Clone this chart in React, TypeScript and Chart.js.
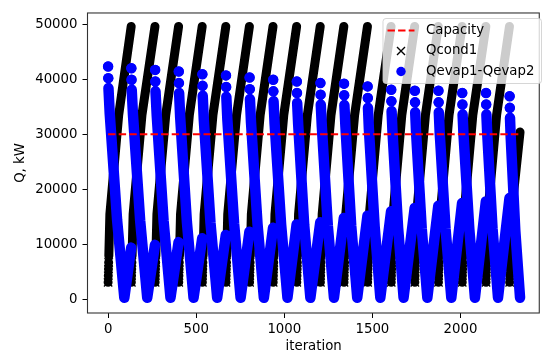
import React, { useEffect, useRef } from "react";
import { Chart, registerables } from "chart.js";

Chart.register(...registerables);

// ---------- data ----------
const xTicks = [0, 500, 1000, 1500, 2000];
const xTickLabels = ["0", "500", "1000", "1500", "2000"];
const yTicks = [0, 10000, 20000, 30000, 40000, 50000];
const yTickLabels = ["0", "10000", "20000", "30000", "40000", "50000"];

const lastIteration = 2338;
const capacityIter = [0, 2338];
const capacityValue = [30000, 30000];

// start iteration of each cycle
const cycleStart = [0, 132, 267, 401, 535, 669, 803, 937, 1071, 1205, 1339, 1473, 1607, 1741, 1875, 2010, 2145, 2279];

// Qevap1-Qevap2 (blue)
const evapPeak = [42300, 42000, 41700, 41400, 40900, 40700, 40300, 39900, 39600, 39300, 39200, 38700, 38100, 37900, 37900, 37500, 37500, 36900];
const evapSecond = [40200, 39900, 39600, 39300, 38800, 38600, 38200, 37800, 37500, 37200, 37100, 36600, 36000, 35800, 35800, 35400, 35400, 34800];
const evapColumnTop = [38400, 38100, 37800, 37500, 37000, 36800, 36400, 36000, 35700, 35400, 35300, 34800, 34200, 34000, 34000, 33600, 33600, 33000];
const evapUpperIter = [9, 141, 276, 409, 543, 677, 811, 945, 1079, 1213, 1347, 1480, 1614, 1748, 1882, 2017, 2152, 2285];
const evapUpper = [33800, 33600, 33400, 33100, 32700, 32600, 32200, 31900, 31700, 31400, 31400, 31000, 30500, 30300, 30300, 30000, 30000, 29500];
const evapMidIter = [51, 182, 315, 447, 581, 715, 848, 982, 1113, 1247, 1380, 1513, 1646, 1780, 1915, 2050, 2182, 2311];
const evapMid = [14400, 14300, 14200, 14100, 13900, 13800, 13700, 13600, 13500, 13400, 13300, 13200, 13000, 12900, 12900, 12800, 12800, 12500];
const evapTroughIter = [92, 222, 354, 485, 619, 752, 884, 1018, 1148, 1282, 1414, 1545, 1677, 1812, 1948, 2082, 2213, 2338];
const evapTrough = [300, 300, 300, 300, 300, 300, 300, 300, 300, 300, 300, 300, 300, 300, 300, 300, 300, 300];
const evapShoulder = [9400, 9900, 10400, 11100, 11700, 12300, 13000, 13600, 14000, 14800, 15200, 16000, 16600, 17000, 17500, 17800, 18400];

// Qcond1 (black x)
const condStackOffset = [0, 1, 2, 3];
const condStack = [3100, 4300, 5500, 6700];
const condRiseOffset = [4, 10, 60];
const condRise = [7900, 15500, 33500];
const condTop = [49600, 49600, 49600, 49600, 49600, 49600, 49600, 49600, 49600, 49600, 49600, 49600, 49600, 49600, 49600, 49600, 49600, 30400];

// ---------- styling ----------
const FONT = "'DejaVu Sans', 'Liberation Sans', sans-serif";
const FS = 13.3;

type P = { x: number; y: number | null; m?: boolean };

function buildEvap(): P[] {
  const d: P[] = [];
  for (let k = 0; k < cycleStart.length; k++) {
    const s = cycleStart[k];
    d.push({ x: s, y: evapPeak[k], m: true });
    d.push({ x: s + 0.5, y: null });
    d.push({ x: s + 1, y: evapSecond[k], m: true });
    d.push({ x: s + 1.5, y: null });
    d.push({ x: s + 2, y: evapColumnTop[k] });
    d.push({ x: evapUpperIter[k], y: evapUpper[k] });
    d.push({ x: evapMidIter[k], y: evapMid[k] });
    d.push({ x: evapTroughIter[k], y: evapTrough[k] });
    if (k < evapShoulder.length) {
      d.push({ x: cycleStart[k + 1] - 1, y: evapShoulder[k] });
      d.push({ x: cycleStart[k + 1] - 0.5, y: null });
    }
  }
  return d;
}

function buildCond(): P[] {
  const d: P[] = [];
  for (let k = 0; k < cycleStart.length; k++) {
    const s = cycleStart[k];
    const end = k + 1 < cycleStart.length ? cycleStart[k + 1] - 1 : lastIteration;
    for (let j = 0; j < condStack.length; j++) {
      d.push({ x: s + condStackOffset[j], y: condStack[j], m: true });
      d.push({ x: s + condStackOffset[j] + 0.5, y: null });
    }
    for (let j = 0; j < condRise.length; j++) {
      if (s + condRiseOffset[j] < end) d.push({ x: s + condRiseOffset[j], y: condRise[j] });
    }
    d.push({ x: end, y: condTop[k] });
    d.push({ x: end + 0.5, y: null });
  }
  return d;
}

const framePlugin = {
  id: "frame",
  afterDatasetsDraw(chart: any) {
    const { ctx, chartArea: a } = chart;
    ctx.save();
    ctx.strokeStyle = "#333";
    ctx.lineWidth = 1.1;
    ctx.strokeRect(a.left, a.top, a.right - a.left - 0.5, a.bottom - a.top);
    ctx.restore();
  },
  afterDraw(chart: any) {
    const { ctx, chartArea: a } = chart;
    ctx.save();
    // axis titles
    ctx.fillStyle = "#000";
    ctx.font = `${FS}px ${FONT}`;
    ctx.textAlign = "center";
    ctx.textBaseline = "middle";
    ctx.fillText("iteration", (a.left + a.right) / 2, 347);
    ctx.save();
    ctx.translate(21, (a.top + a.bottom) / 2);
    ctx.rotate(-Math.PI / 2);
    ctx.fillText("Q, kW", 0, 0);
    ctx.restore();

    // legend
    const lx = 383, ly = 18.5, lw = 158.5, lh = 65, r = 3;
    ctx.beginPath();
    ctx.moveTo(lx + r, ly);
    ctx.lineTo(lx + lw - r, ly);
    ctx.quadraticCurveTo(lx + lw, ly, lx + lw, ly + r);
    ctx.lineTo(lx + lw, ly + lh - r);
    ctx.quadraticCurveTo(lx + lw, ly + lh, lx + lw - r, ly + lh);
    ctx.lineTo(lx + r, ly + lh);
    ctx.quadraticCurveTo(lx, ly + lh, lx, ly + lh - r);
    ctx.lineTo(lx, ly + r);
    ctx.quadraticCurveTo(lx, ly, lx + r, ly);
    ctx.closePath();
    ctx.fillStyle = "rgba(255,255,255,0.8)";
    ctx.fill();
    ctx.strokeStyle = "rgba(204,204,204,0.8)";
    ctx.lineWidth = 1;
    ctx.stroke();

    const rows = [30.5, 51, 71.5];
    const hx0 = 387.5, hx1 = 414.5, hc = 401;
    // Capacity
    ctx.strokeStyle = "red";
    ctx.lineWidth = 2;
    ctx.setLineDash([7.4, 3.2]);
    ctx.beginPath();
    ctx.moveTo(hx0, rows[0]);
    ctx.lineTo(hx1, rows[0]);
    ctx.stroke();
    ctx.setLineDash([]);
    // Qcond1
    ctx.strokeStyle = "#000";
    ctx.lineWidth = 1.33;
    ctx.beginPath();
    ctx.moveTo(hc - 4, rows[1] - 4);
    ctx.lineTo(hc + 4, rows[1] + 4);
    ctx.moveTo(hc - 4, rows[1] + 4);
    ctx.lineTo(hc + 4, rows[1] - 4);
    ctx.stroke();
    // Qevap
    ctx.fillStyle = "blue";
    ctx.beginPath();
    ctx.arc(hc, rows[2], 4.7, 0, Math.PI * 2);
    ctx.fill();

    ctx.fillStyle = "#000";
    ctx.textAlign = "left";
    ctx.textBaseline = "middle";
    ctx.fillText("Capacity", 426, rows[0]);
    ctx.fillText("Qcond1", 426, rows[1]);
    ctx.fillText("Qevap1-Qevap2", 426, rows[2]);
    ctx.restore();
  },
};

export default function App() {
  const ref = useRef<HTMLCanvasElement>(null);
  useEffect(() => {
    const canvas = ref.current;
    if (!canvas) return;
    const capData = capacityIter.map((x, i) => ({ x, y: capacityValue[i] }));
    const chart = new Chart(canvas, {
      type: "line",
      data: {
        datasets: [
          {
            label: "Capacity",
            data: capData,
            borderColor: "red",
            borderWidth: 2,
            borderDash: [7.4, 3.2],
            pointRadius: 0,
            fill: false,
          },
          {
            label: "Qevap1-Qevap2",
            data: buildEvap() as any,
            borderColor: "blue",
            borderWidth: 10.5,
            borderCapStyle: "round",
            borderJoinStyle: "round",
            pointStyle: "circle",
            pointRadius: (c: any) => (c.raw && c.raw.m ? 5 : 0),
            pointBackgroundColor: "blue",
            pointBorderWidth: 0,
            spanGaps: false,
            fill: false,
          },
          {
            label: "Qcond1",
            data: buildCond() as any,
            borderColor: "#000",
            borderWidth: 9,
            borderCapStyle: "round",
            borderJoinStyle: "round",
            pointStyle: "crossRot",
            pointRadius: (c: any) => (c.raw && c.raw.m ? 5.9 : 0),
            pointBorderColor: "#000",
            pointBorderWidth: 1.33,
            spanGaps: false,
            fill: false,
          },
        ],
      },
      options: {
        animation: false,
        responsive: false,
        maintainAspectRatio: false,
        devicePixelRatio: 1,
        events: [],
        layout: { padding: { left: 0, right: 0, top: 11, bottom: 0 } },
        plugins: { legend: { display: false }, tooltip: { enabled: false } },
        elements: { line: { tension: 0 } },
        scales: {
          x: {
            type: "linear",
            min: -117,
            max: 2450,
            afterBuildTicks: (s: any) => {
              s.ticks = xTicks.map((v) => ({ value: v }));
            },
            afterFit: (s: any) => {
              s.height = 41;
            },
            grid: { drawOnChartArea: false, tickLength: 5, color: "#000", tickWidth: 1 },
            border: { display: false },
            ticks: {
              autoSkip: false,
              maxRotation: 0,
              padding: 4,
              color: "#000",
              font: { family: FONT, size: FS },
              callback: (_v: any, i: number) => xTickLabels[i],
            },
          },
          y: {
            type: "linear",
            min: -2480,
            max: 52040,
            afterBuildTicks: (s: any) => {
              s.ticks = yTicks.map((v) => ({ value: v }));
            },
            afterFit: (s: any) => {
              s.width = 87.5;
            },
            grid: { drawOnChartArea: false, tickLength: 5, color: "#000", tickWidth: 1 },
            border: { display: false },
            ticks: {
              autoSkip: false,
              padding: 5,
              color: "#000",
              font: { family: FONT, size: FS },
              callback: (_v: any, i: number) => yTickLabels[i],
            },
          },
        },
      },
      plugins: [framePlugin],
    });
    return () => chart.destroy();
  }, []);
  return (
    <div style={{ position: "fixed", left: 0, top: 0, width: 547, height: 354, background: "#fff" }}>
      <canvas ref={ref} width={547} height={354} style={{ display: "block", width: 547, height: 354 }} />
    </div>
  );
}
